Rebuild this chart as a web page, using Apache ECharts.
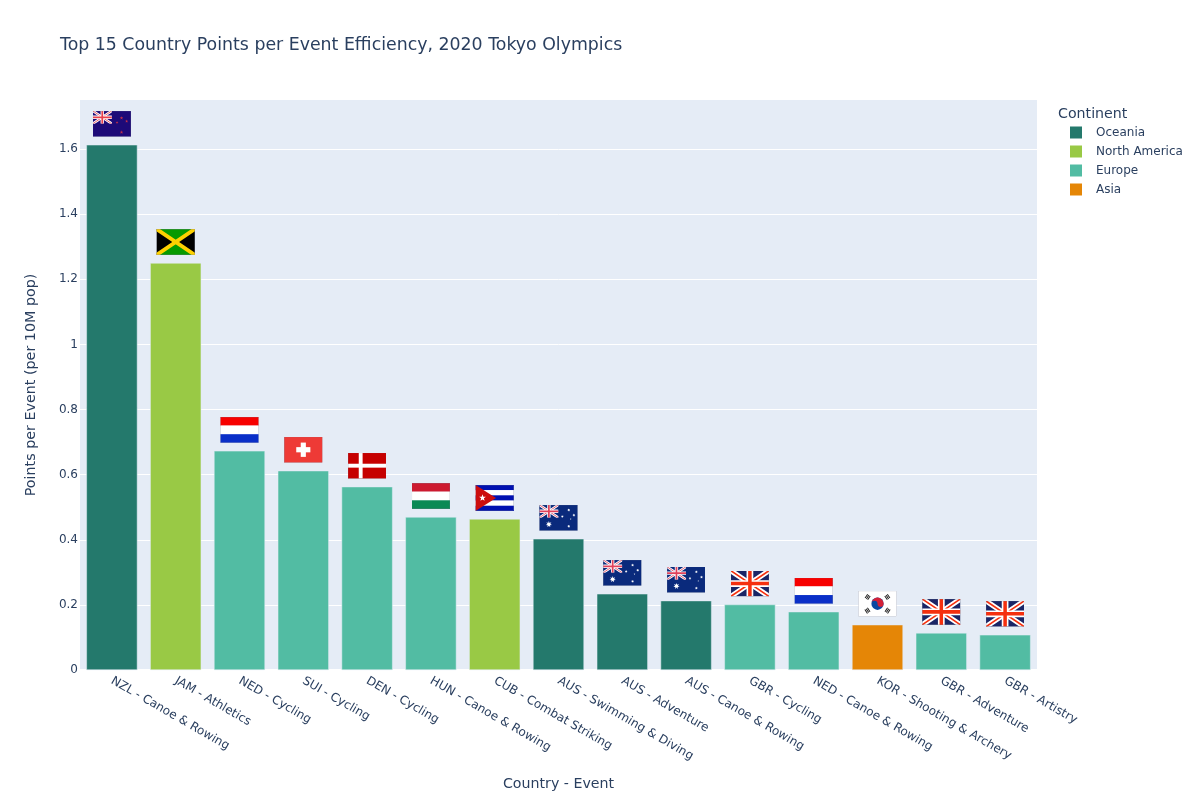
<!DOCTYPE html>
<html>
<head>
<meta charset="utf-8">
<title>Top 15 Country Points per Event Efficiency</title>
<script src="https://cdn.jsdelivr.net/npm/echarts@6/dist/echarts.min.js"></script>
<style>html,body{margin:0;padding:0;background:#fff}#c{width:1200px;height:800px}</style>
</head>
<body>
<div id="c"></div>
<script>
const categories = ['NZL - Canoe & Rowing','JAM - Athletics','NED - Cycling','SUI - Cycling','DEN - Cycling','HUN - Canoe & Rowing','CUB - Combat Striking','AUS - Swimming & Diving','AUS - Adventure','AUS - Canoe & Rowing','GBR - Cycling','NED - Canoe & Rowing','KOR - Shooting & Archery','GBR - Adventure','GBR - Artistry'];
const values = [1.613,1.25,0.673,0.612,0.563,0.47,0.464,0.403,0.234,0.213,0.201,0.179,0.139,0.114,0.108];
const continents = ['Oceania','North America','Europe','Europe','Europe','Europe','North America','Oceania','Oceania','Oceania','Europe','Europe','Asia','Europe','Europe'];
const flagCodes = ['NZL','JAM','NED','SUI','DEN','HUN','CUB','AUS','AUS','AUS','GBR','NED','KOR','GBR','GBR'];
const legendOrder = ['Oceania','North America','Europe','Asia'];
const palette = {'Oceania':'#24796C','North America':'#99C945','Europe':'#52BCA3','Asia':'#E58606'};
const textColor = '#2a3f5f', FONT = '"DejaVu Sans", Verdana, sans-serif';

function star(cx, cy, r, fill, n) {
  n = n || 5; const inner = n === 7 ? r * 0.45 : r * 0.4; let p = [];
  for (let i = 0; i < n * 2; i++) {
    const a = -Math.PI / 2 + i * Math.PI / n, q = i % 2 ? inner : r;
    p.push((cx + q * Math.cos(a)).toFixed(2) + ',' + (cy + q * Math.sin(a)).toFixed(2));
  }
  return `<polygon points="${p.join(' ')}" fill="${fill}"/>`;
}
function jack(x, y, w, h, blue, red) {
  return `<svg x="${x}" y="${y}" width="${w}" height="${h}" viewBox="0 0 60 40" preserveAspectRatio="none">
  <rect width="60" height="40" fill="${blue}"/>
  <path d="M0 0L60 40M60 0L0 40" stroke="#fff" stroke-width="8"/>
  <path d="M0 0L60 40M60 0L0 40" stroke="${red}" stroke-width="2.5"/>
  <path d="M30 0V40M0 20H60" stroke="#fff" stroke-width="10.5"/>
  <path d="M30 0V40M0 20H60" stroke="${red}" stroke-width="5.5"/></svg>`;
}
function stripes(cols) {
  const h = 40 / cols.length;
  return cols.map((c, i) => `<rect y="${i * h}" width="60" height="${h + 0.2}" fill="${c}"/>`).join('');
}
function koreaBars(x, y, deg) {
  const bar = i => `<rect x="-3.6" y="${-3 + i * 2.4}" width="7.2" height="1.6" fill="#222"/>`;
  return `<g transform="translate(${x} ${y}) rotate(${deg})">${bar(0)}${bar(1)}${bar(2)}</g>`;
}
const flagArt = {
  NZL: `<rect width="60" height="40" fill="#1d0a78"/>${jack(0,0,30,20,'#1d0a78','#e8404c')}` +
       star(45,11,2.8,'#c0304a')+star(53,16,2.6,'#c0304a')+star(38,18,2.3,'#c0304a')+star(45,33,2.9,'#c0304a'),
  JAM: `<rect width="60" height="40" fill="#000"/><path d="M0 0L30 20L60 0ZM0 40L30 20L60 40Z" fill="#079a00"/><path d="M0 0L60 40M60 0L0 40" stroke="#fed100" stroke-width="6"/>`,
  NED: stripes(['#f70000','#ffffff','#0a2fc8']),
  SUI: `<rect width="60" height="40" fill="#ee3a36"/><rect x="26" y="9" width="8" height="22" fill="#fff"/><rect x="19" y="16" width="22" height="8" fill="#fff"/>`,
  DEN: `<rect width="60" height="40" fill="#c60000"/><rect x="17" width="6" height="40" fill="#fff"/><rect y="17" width="60" height="6" fill="#fff"/>`,
  HUN: stripes(['#cd1a30','#ffffff','#0a8a55']),
  CUB: stripes(['#0010b0','#ffffff','#0010b0','#ffffff','#0010b0']) + `<polygon points="0,0 32,20 0,40" fill="#cc0d0d"/>` + star(11,20,5.6,'#fff'),
  AUS: `<rect width="60" height="40" fill="#0a2a7c"/>${jack(0,0,30,20,'#0a2a7c','#e0405a')}` +
       star(15,30,5,'#fff',7)+star(46,8,2.4,'#fff',7)+star(54,16,2.4,'#fff',7)+star(36,18,2.2,'#fff',7)+star(46,33,2.4,'#fff',7)+star(49,22,1.3,'#fff'),
  GBR: jack(0,0,60,40,'#1a2566','#f5300f'),
  KOR: `<rect width="60" height="40" fill="#fff"/><circle cx="30" cy="20" r="9.5" fill="#0a47a1"/><path d="M20.5 20A9.5 9.5 0 0 1 39.5 20A4.75 4.75 0 0 1 30 20A4.75 4.75 0 0 0 20.5 20Z" fill="#d32038"/>` +
       koreaBars(14.5,9.5,-56)+koreaBars(45.5,9.5,56)+koreaBars(14.5,30.5,56)+koreaBars(45.5,30.5,-56)
};
function flagUrl(code) {
  const svg = `<svg xmlns="http://www.w3.org/2000/svg" width="154" height="104" viewBox="0 0 60 40" preserveAspectRatio="none">${flagArt[code]}<rect x="0.3" y="0.3" width="59.4" height="39.4" fill="none" stroke="#7a7f90" stroke-opacity="0.75" stroke-width="0.6"/></svg>`;
  return 'image://data:image/svg+xml;charset=utf-8,' + encodeURIComponent(svg);
}

const barSeries = legendOrder.map(name => ({
  name, type: 'bar', stack: 'all', barWidth: '80%',
  itemStyle: { color: palette[name], borderColor: '#E5ECF6', borderWidth: 0.5 },
  data: values.map((v, i) => continents[i] === name ? v : '-')
}));
const flagSeries = {
  name: 'Flags', type: 'scatter', symbolSize: [38.5, 26], symbolOffset: [0, -21], z: 5, silent: true, clip: false,
  itemStyle: { opacity: 1 },
  data: values.map((v, i) => ({ value: v, symbol: flagUrl(flagCodes[i]) }))
};

const chart = echarts.init(document.getElementById('c'), null, { renderer: 'canvas' });
chart.setOption({
  animation: false,
  backgroundColor: '#fff',
  textStyle: { fontFamily: FONT, color: textColor },
  title: [
    { text: 'Top 15 Country Points per Event Efficiency, 2020 Tokyo Olympics', left: 60, top: 37, padding: 0,
      textStyle: { fontSize: 17.35, fontWeight: 'normal', color: textColor, fontFamily: FONT } },
    { text: 'Continent', left: 1058, top: 107, padding: 0,
      textStyle: { fontSize: 14.2, fontWeight: 'normal', color: textColor, fontFamily: FONT } }
  ],
  legend: {
    data: legendOrder, orient: 'vertical', left: 1070, top: 126.5, padding: 0, icon: 'rect',
    itemWidth: 12, itemHeight: 12, itemGap: 7, selectedMode: false,
    itemStyle: { borderWidth: 0 },
    textStyle: { fontSize: 12, color: textColor, fontFamily: FONT, padding: [0, 0, 0, 9] }
  },
  grid: { left: 80, right: 163, top: 100, bottom: 130, show: true, backgroundColor: '#E5ECF6', borderWidth: 0, containLabel: false },
  xAxis: {
    type: 'category', data: categories,
    name: 'Country - Event', nameLocation: 'middle', nameGap: 107, nameMoveOverlap: false,
    nameTextStyle: { fontSize: 14.2, color: textColor, fontFamily: FONT },
    axisLine: { show: true, lineStyle: { color: '#fff', width: 2 } }, axisTick: { show: false },
    axisLabel: { rotate: -30, interval: 0, fontSize: 12, color: textColor, fontFamily: FONT, margin: 10, hideOverlap: false }
  },
  yAxis: {
    type: 'value', min: 0, max: 1.7506, interval: 0.2,
    name: 'Points per Event (per 10M pop)', nameLocation: 'middle', nameGap: 42, nameMoveOverlap: false,
    nameTextStyle: { fontSize: 14.3, color: textColor, fontFamily: FONT },
    axisLine: { show: false }, axisTick: { show: false },
    splitLine: { show: true, showMaxLine: false, lineStyle: { color: '#fff', width: 1 } },
    axisLabel: { fontSize: 12, color: textColor, fontFamily: FONT, margin: 2, showMaxLabel: false,
      formatter: v => String(Math.round(v * 10) / 10) }
  },
  tooltip: { show: false },
  series: [...barSeries, flagSeries]
});
</script>
</body>
</html>
